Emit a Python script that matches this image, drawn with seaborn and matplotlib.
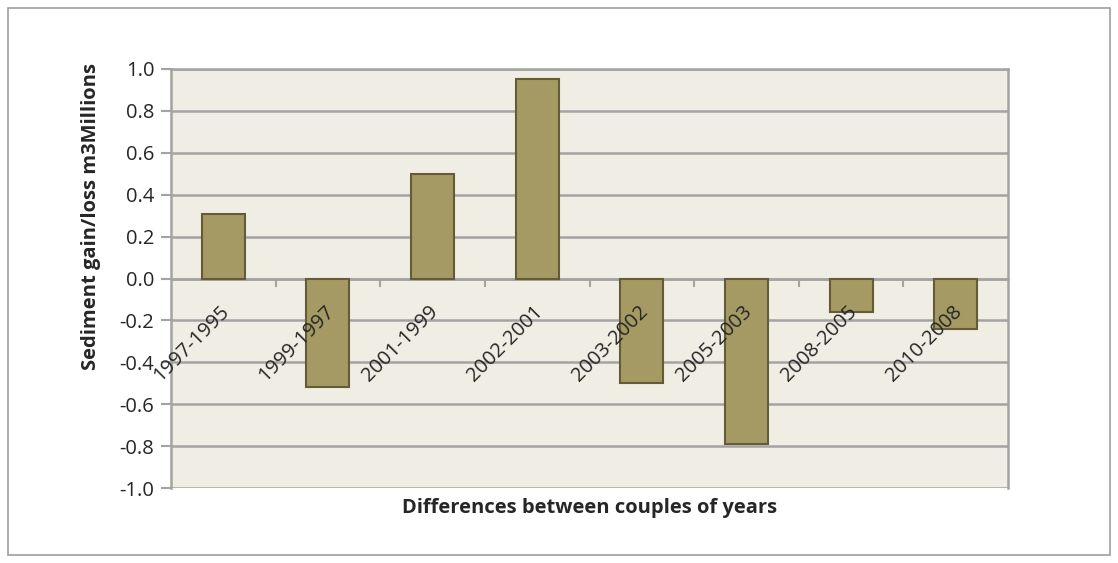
import matplotlib
matplotlib.use("Agg")
import matplotlib.pyplot as plt
import matplotlib.patches as mpatches
import matplotlib.transforms as mtransforms
import seaborn as sns
import pandas as pd
import numpy as np

# Sediment budget between successive survey years (million m3)
periods = ["1997-1995", "1999-1997", "2001-1999", "2002-2001",
           "2003-2002", "2005-2003", "2008-2005", "2010-2008"]
volumes = [0.31, -0.52, 0.50, 0.95, -0.50, -0.79, -0.16, -0.24]
y_ticks = [-1.0, -0.8, -0.6, -0.4, -0.2, 0.0, 0.2, 0.4, 0.6, 0.8, 1.0]

df = pd.DataFrame({"period": periods, "volume": volumes})

sns.set_style("white")
plt.rcParams["font.family"] = ["Open Sans", "DejaVu Sans"]

BAR = "#A59A63"
EDGE = "#645C36"
GRID = "#A3A3A3"
PANEL = "#F0EDE4"
FS = 14.5

fig = plt.figure(figsize=(11.18, 5.63), dpi=100)
ax = fig.add_axes([171 / 1118, 1 - 488 / 563, (1008 - 171) / 1118, (488 - 69) / 563])

# outer chart frame
fig.patches.append(mpatches.Rectangle((8 / 1118, 8 / 563), 1102 / 1118, 547 / 563,
                                      transform=fig.transFigure, fill=False,
                                      edgecolor="#9E9E9E", linewidth=1.2))

ax.set_facecolor(PANEL)
sns.barplot(data=df, x="period", y="volume", color=BAR, saturation=1,
            width=0.41, edgecolor=EDGE, linewidth=1.5, ax=ax, zorder=3)

ax.set_ylim(-1.0, 1.0)
ax.set_xlim(-0.5, len(periods) - 0.5)
ax.set_yticks(y_ticks)
ax.set_yticklabels([f"{v:.1f}" for v in y_ticks], fontsize=FS)
ax.yaxis.grid(True, color=GRID, linewidth=1.8, zorder=0)
ax.set_axisbelow(True)

for side in ["left", "top", "right"]:
    ax.spines[side].set_color(GRID)
    ax.spines[side].set_linewidth(1.8)
ax.spines["bottom"].set_position(("data", 0))
ax.spines["bottom"].set_color(GRID)
ax.spines["bottom"].set_linewidth(1.8)

ax.tick_params(axis="y", direction="out", length=7, width=1.5, color=GRID, pad=5, left=True)
ax.set_xticks(np.arange(len(periods) - 1) + 0.5)
ax.set_xticklabels([])
ax.tick_params(axis="x", direction="out", length=6, width=1.5, color=GRID, bottom=True)

# category labels sit on the zero line and are drawn over the bars
offset = mtransforms.ScaledTranslation(-4 / 100, -23 / 100, fig.dpi_scale_trans)
for i, name in enumerate(periods):
    ax.text(i, 0, name, rotation=45, rotation_mode="anchor", ha="right", va="top",
            fontsize=FS, transform=ax.transData + offset, zorder=5, clip_on=False)

ax.set_xlabel("")
ax.set_ylabel("Sediment gain/loss m3Millions", fontsize=FS, fontweight="bold")
ax.yaxis.set_label_coords(-0.084, 0.649)
fig.text((171 + 1008) / 2 / 1118, 1 - 508 / 563, "Differences between couples of years",
         ha="center", va="center", fontsize=FS, fontweight="bold")

fig.savefig("out.png", dpi=100, facecolor="white")
